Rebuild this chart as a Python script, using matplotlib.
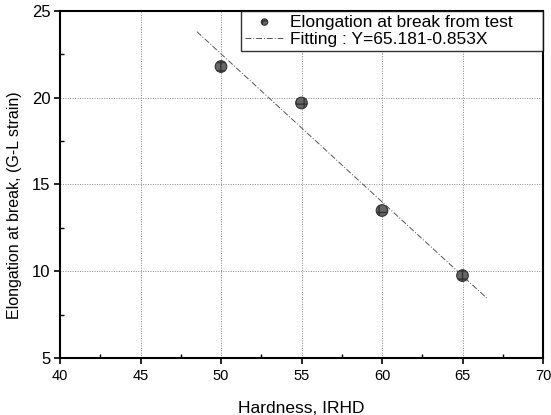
import matplotlib.pyplot as plt
import numpy as np

plt.rcParams["font.family"] = ["Liberation Sans", "DejaVu Sans"]

# measured points
hardness = [50, 55, 60, 65]
elongation = [21.8, 19.7, 13.5, 9.75]

# linear fit shown on the chart
fit_a = 65.181
fit_b = -0.853
fit_range = [48.5, 66.5]

xticks = [40, 45, 50, 55, 60, 65, 70]
yticks = [5, 10, 15, 20, 25]

fig = plt.figure(figsize=(5.51, 4.15), dpi=100)
ax = fig.add_axes([60 / 551, 1 - 358 / 415, 483 / 551, 347 / 415])

ax.grid(True, color="#888888", linestyle=(0, (1, 1.5)), linewidth=0.7)
ax.set_axisbelow(True)

ax.scatter(hardness, elongation, s=70, facecolor="#666666", edgecolor="#333333",
           hatch="++", linewidths=0.8, zorder=3, label="Elongation at break from test")

xf = np.array(fit_range)
ax.plot(xf, fit_a + fit_b * xf, color="#555555", linewidth=0.7,
        linestyle=(0, (6, 2, 1, 2)), zorder=2, label="Fitting : Y=65.181-0.853X")

ax.set_xlim(40, 70)
ax.set_ylim(5, 25)
ax.set_xticks(xticks)
ax.set_yticks(yticks)
ax.set_xticks([42.5, 47.5, 52.5, 57.5, 62.5, 67.5], minor=True)
ax.set_yticks([7.5, 12.5, 17.5, 22.5], minor=True)
ax.tick_params(which="major", direction="out", length=4, width=1.2)
ax.tick_params(axis="x", which="major", labelsize=10.5, pad=4)
ax.tick_params(axis="y", which="major", labelsize=12, pad=3)
ax.tick_params(which="minor", direction="in", length=3, width=1)
for s in ax.spines.values():
    s.set_linewidth(1.5)

ax.set_xlabel("Hardness, IRHD", fontsize=12.5)
ax.xaxis.set_label_coords(0.5, -0.125)
ax.set_ylabel("Elongation at break, (G-L strain)", fontsize=11.5)
ax.yaxis.set_label_coords(-0.078, 0.44)

leg = ax.legend(loc="upper left", bbox_to_anchor=(0.375, 1.0, 0.625, 0), mode="expand",
                fontsize=12.5, frameon=True, fancybox=False, edgecolor="black",
                borderpad=0.2, handlelength=2.3, handletextpad=0.3,
                labelspacing=0.15, borderaxespad=0, markerscale=0.55)
leg.get_frame().set_linewidth(1.0)

fig.savefig("out.png", dpi=100)
